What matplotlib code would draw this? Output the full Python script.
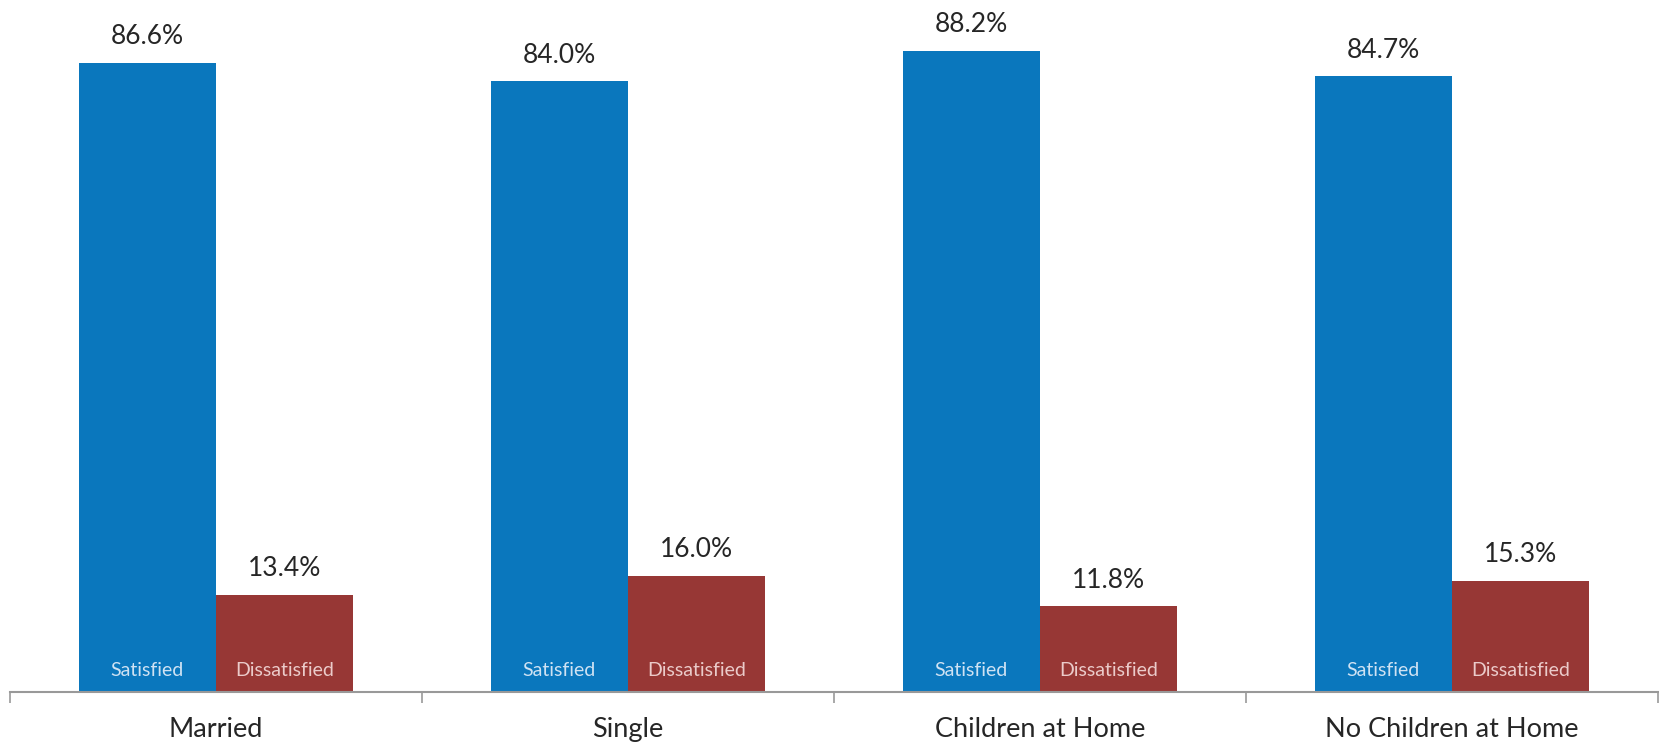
import numpy as np
import matplotlib.pyplot as plt

# data
categories = ['Married', 'Single', 'Children at Home', 'No Children at Home']
satisfied = [86.6, 84.0, 88.2, 84.7]
dissatisfied = [13.4, 16.0, 11.8, 15.3]

blue = '#0A77BD'
red = '#973735'

plt.rcParams['font.family'] = ['Lato', 'DejaVu Sans']

fig = plt.figure(figsize=(16.59, 7.42), dpi=100)
ax = fig.add_axes([10 / 1659, 1 - 692 / 742, 1648 / 1659, 692 / 742])

x = np.arange(len(categories))
w = 1 / 3
b1 = ax.bar(x - w / 2, satisfied, w, color=blue)
b2 = ax.bar(x + w / 2, dissatisfied, w, color=red)

ax.set_xlim(-0.5, len(categories) - 0.5)
ax.set_ylim(0, 95.2)

# value labels above bars
for bars, vals in [(b1, satisfied), (b2, dissatisfied)]:
    for r, v in zip(bars, vals):
        ax.annotate(f'{v:.1f}%', (r.get_x() + r.get_width() / 2, v),
                    xytext=(0, 26), textcoords='offset pixels',
                    ha='center', va='center', fontsize=19, color='#262626')

# labels inside bars
for i in x:
    ax.annotate('Satisfied', (i - w / 2, 0), xytext=(0, 21), textcoords='offset pixels',
                ha='center', va='center', fontsize=14, color='#CFE2F3')
    ax.annotate('Dissatisfied', (i + w / 2, 0), xytext=(0, 21), textcoords='offset pixels',
                ha='center', va='center', fontsize=14, color='#EBCBCA')

# axes styling
for s in ['top', 'right', 'left']:
    ax.spines[s].set_visible(False)
ax.spines['bottom'].set_color('#999999')
ax.spines['bottom'].set_linewidth(1.5)
ax.set_yticks([])
ax.set_xticks(np.arange(-0.5, len(categories)), minor=False)
ax.set_xticklabels([])
ax.tick_params(axis='x', length=8, color='#999999', width=1.2)
ax.set_xticks(x, minor=True)
ax.set_xticklabels(categories, minor=True)
ax.tick_params(axis='x', which='minor', length=0, pad=18, labelsize=19.5,
               labelcolor='#262626')

fig.savefig('out.png', dpi=100)
